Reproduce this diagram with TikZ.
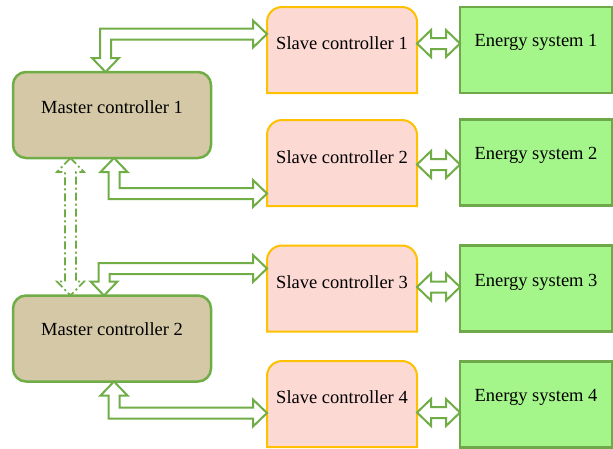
\documentclass[tikz,border=0pt]{standalone}
\usepackage{fontspec}
\setmainfont{Liberation Serif}
\usetikzlibrary{calc}
\definecolor{lgreen}{HTML}{70AD47}
\definecolor{mfill}{HTML}{D4C8A6}
\definecolor{sfill}{HTML}{FDD9D4}
\definecolor{sline}{HTML}{FFC000}
\definecolor{efill}{HTML}{A4F68A}
\definecolor{eline}{HTML}{6EA84A}
\def\ahw{13.5pt}\def\ahl{14pt}\def\asw{5.5pt}
\tikzset{
  mbox/.style={draw=lgreen, fill=mfill, line width=2.5pt, rounded corners=13pt,
    minimum width=198pt, minimum height=86pt, inner sep=0pt, outer sep=0pt},
  sbox/.style={minimum width=150pt, minimum height=86pt, inner sep=0pt, outer sep=0pt},
  ebox/.style={draw=eline, fill=efill, line width=2.5pt,
    minimum width=152pt, minimum height=86pt, inner sep=0pt, outer sep=0pt},
  sshape/.style={draw=sline, fill=sfill, line width=2pt},
  lbl/.style={anchor=base, inner sep=0pt, font=\fontsize{18.5}{22}\selectfont},
  flow/.style={draw=lgreen, fill=white, line width=2pt, line join=miter},
  dflow/.style={draw=lgreen, fill=white, line width=1.8pt, line join=miter,
    dash pattern=on 8pt off 3pt on 2pt off 3pt}
}
\newcommand{\SlaveShape}[1]{%
  \draw[sshape] (#1.south west) -- ($(#1.north west)+(0pt,-15pt)$)
    arc[start angle=180, end angle=90, radius=15pt]
    -- ($(#1.north east)+(-15pt,0pt)$)
    arc[start angle=90, end angle=0, radius=15pt]
    -- (#1.south east) -- cycle;}
% horizontal hollow double arrow
\newcommand{\HArrow}[2]{%
  \coordinate (hL) at (#1); \coordinate (hR) at (#2 |- hL);
  \draw[flow] (hL) -- ($(hL)+(\ahl,\ahw)$) -- ($(hL)+(\ahl,\asw)$)
    -- ($(hR)+(-\ahl,\asw)$) -- ($(hR)+(-\ahl,\ahw)$) -- (hR)
    -- ($(hR)+(-\ahl,-\ahw)$) -- ($(hR)+(-\ahl,-\asw)$)
    -- ($(hL)+(\ahl,-\asw)$) -- ($(hL)+(\ahl,-\ahw)$) -- cycle;}
% vertical hollow double arrow (dashed)
\newcommand{\VArrow}[3]{%
  \coordinate (vT) at (#1); \coordinate (vB) at (vT |- #2);
  \draw[#3] (vT) -- ($(vT)+(\ahw,-\ahl)$) -- ($(vT)+(\asw,-\ahl)$)
    -- ($(vB)+(\asw,\ahl)$) -- ($(vB)+(\ahw,\ahl)$) -- (vB)
    -- ($(vB)+(-\ahw,\ahl)$) -- ($(vB)+(-\asw,\ahl)$)
    -- ($(vT)+(-\asw,-\ahl)$) -- ($(vT)+(-\ahw,-\ahl)$) -- cycle;}
% L-shaped hollow double arrow: #1 vertical tip, #2 horizontal tip, #3 direction
\newcommand{\LArrow}[3]{%
  \coordinate (lA) at (#1); \coordinate (lB) at (#2); \coordinate (lC) at (lA |- lB);
  \draw[flow] (lA) -- ($(lA)+(\ahw,{-(#3)*\ahl})$) -- ($(lA)+(\asw,{-(#3)*\ahl})$)
    -- ($(lC)+(\asw,{(#3)*\asw})$) -- ($(lB)+(-\ahl,{(#3)*\asw})$)
    -- ($(lB)+(-\ahl,{(#3)*\ahw})$) -- (lB)
    -- ($(lB)+(-\ahl,{-(#3)*\ahw})$) -- ($(lB)+(-\ahl,{-(#3)*\asw})$)
    -- ($(lC)+(-\asw,{-(#3)*\asw})$) -- ($(lA)+(-\asw,{-(#3)*\ahl})$)
    -- ($(lA)+(-\ahw,{-(#3)*\ahl})$) -- cycle;}
\begin{document}
\begin{tikzpicture}[x=1pt, y=-1pt]
\useasboundingbox (0,0) rectangle (613,448);
% master controllers
\node[mbox] (m1) at (112,115) {};
\node[mbox] (m2) at (112,338.5) {};
% slave controllers
\node[sbox] (s1) at (342,50) {};
\node[sbox] (s2) at (342,163) {};
\node[sbox] (s3) at (342,288.5) {};
\node[sbox] (s4) at (342,404) {};
\SlaveShape{s1}\SlaveShape{s2}\SlaveShape{s3}\SlaveShape{s4}
% energy systems
\node[ebox] (e1) at (536,50) {};
\node[ebox] (e2) at (536,162.5) {};
\node[ebox] (e3) at (536,288.5) {};
\node[ebox] (e4) at (536,404.5) {};
% texts
\node[lbl] (m1t) at ($(m1.center)+(0,-2)$) {Master controller 1};
\node[lbl] (m2t) at ($(m2.center)+(0,-3.5)$) {Master controller 2};
\node[lbl] (s1t) at ($(s1.center)+(0,-1)$) {Slave controller 1};
\node[lbl] (s2t) at ($(s2.center)+(0,0)$) {Slave controller 2};
\node[lbl] (s3t) at ($(s3.center)+(0,-0.5)$) {Slave controller 3};
\node[lbl] (s4t) at ($(s4.center)+(0,-1)$) {Slave controller 4};
\node[lbl] (e1t) at ($(e1.center)+(0,-4)$) {Energy system 1};
\node[lbl] (e2t) at ($(e2.center)+(0,-3.5)$) {Energy system 2};
\node[lbl] (e3t) at ($(e3.center)+(0,-2.5)$) {Energy system 3};
\node[lbl] (e4t) at ($(e4.center)+(0,-3.5)$) {Energy system 4};
% slave <-> energy arrows
\HArrow{$(s1.east)+(0,-6.5)$}{e1.west}
\HArrow{$(s2.east)+(0,1.5)$}{e2.west}
\HArrow{$(s3.east)+(0,-1.5)$}{e3.west}
\HArrow{$(s4.east)+(0,8.5)$}{e4.west}
% master <-> slave arrows
\LArrow{$(m1.north)+(-6.5,0)$}{$(s1.west)+(0,-16)$}{-1}
\LArrow{$(m1.south)+(2,0)$}{$(s2.west)+(0,30.5)$}{1}
\LArrow{$(m2.north)+(-8,0)$}{$(s3.west)+(0,-20)$}{-1}
\LArrow{$(m2.south)+(2,0)$}{$(s4.west)+(0,9)$}{1}
% master <-> master dashed arrow
\VArrow{$(m1.south)+(-41.5,0)$}{m2.north}{dflow}
\end{tikzpicture}
\end{document}
